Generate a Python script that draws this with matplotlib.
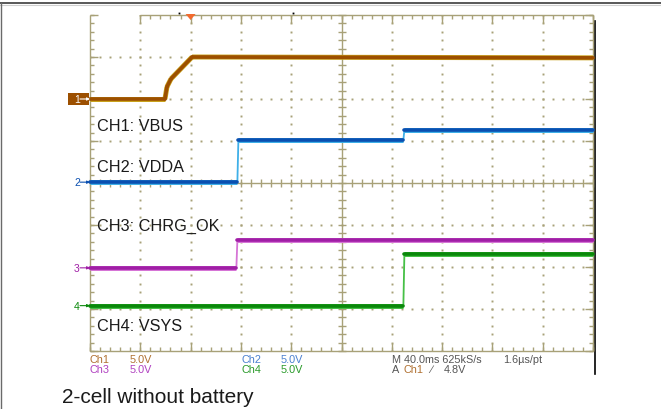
import numpy as np
import matplotlib
matplotlib.use("Agg")
import matplotlib.pyplot as plt
from matplotlib.collections import LineCollection
from matplotlib.patches import Rectangle, Polygon


# ==============================
# TRACE DATA  (x: divisions 0-10, y: divisions 0-8 from bottom)
# ==============================

ch1_t = [0.0, 1.49, 1.53, 1.61, 2.03, 10.0]
ch1_v = [6.00, 6.00, 6.29, 6.48, 7.00, 6.98]

ch2_t = [0.0, 2.93, 2.95, 6.23, 6.25, 10.0]
ch2_v = [4.02, 4.02, 5.02, 5.02, 5.26, 5.26]

ch3_t = [0.0, 2.91, 2.93, 10.0]
ch3_v = [1.98, 1.98, 2.64, 2.64]

ch4_t = [0.0, 6.23, 6.25, 10.0]
ch4_v = [1.08, 1.08, 2.30, 2.30]

channels = ["1", "2", "3", "4"]
ch_ground = [6.00, 4.02, 1.98, 1.08]
ch_names = ["CH1: VBUS", "CH2: VDDA", "CH3: CHRG_OK", "CH4: VSYS"]
name_levels = [5.38, 4.40, 2.98, 0.60]

volts_div = ["5.0V", "5.0V", "5.0V", "5.0V"]
timebase = "M 40.0ms 625kS/s"
resolution = "1.6\u00b5s/pt"
trigger_src = "Ch1"
trigger_level = "4.8V"
trigger_pos = 2.0
caption = "2-cell without battery"


# ==============================
# STYLE
# ==============================

W, H = 661, 410
AX_L, AX_R, AX_T, AX_B = 90, 593, 16, 352
PX = 10.0 / (AX_R - AX_L)   # data units per pixel, x
PY = 8.0 / (AX_B - AX_T)    # data units per pixel, y

dark = ["#9c4f00", "#0a4fb0", "#a01ea6", "#0a880a"]
light = ["#c9a21c", "#3fb0e8", "#d675d6", "#46c046"]
grid_col = "#a8a178"
FONT = "Liberation Sans"

plt.rcParams["font.family"] = [FONT, "DejaVu Sans"]

fig = plt.figure(figsize=(W / 100, H / 100), dpi=100)

# background layer in pixel coordinates
bg = fig.add_axes([0, 0, 1, 1])
bg.set_xlim(0, W)
bg.set_ylim(H, 0)
bg.axis("off")

ax = fig.add_axes([AX_L / W, (H - AX_B) / H, (AX_R - AX_L) / W, (AX_B - AX_T) / H])
ax.set_xlim(0, 10)
ax.set_ylim(0, 8)
ax.axis("off")


# ==============================
# GRATICULE
# ==============================

def tick_segments(positions, base, length, axis):
    segs = []
    for p in positions:
        if axis == "x":
            segs.append([(p, base), (p, base + length)])
        else:
            segs.append([(base, p), (base + length, p)])
    return segs


minor_x = np.arange(0, 10.001, 0.2)
minor_y = np.arange(0, 8.001, 0.2)
major_x = np.arange(0, 11, 1)
major_y = np.arange(0, 9, 1)

# dotted inner grid
for gx in major_x[1:-1]:
    if gx == 5:
        continue
    ax.plot(np.full_like(minor_y, gx), minor_y, ls="none", marker="s",
            ms=1.4, color=grid_col, mew=0)
for gy in major_y[1:-1]:
    if gy == 4:
        continue
    ax.plot(minor_x, np.full_like(minor_x, gy), ls="none", marker="s",
            ms=1.4, color=grid_col, mew=0)

segs = []
# frame
segs.append([(0, 0), (0, 8)])
segs.append([(10, 0), (10, 8)])
segs.append([(0, 0), (10, 0)])
segs.append([(1, 8), (10, 8)])
# centre cross
segs.append([(5, 0), (5, 8)])
segs.append([(0, 4), (10, 4)])

t_min, t_maj = 4, 8
# bottom edge ticks up, top edge ticks down
segs += tick_segments(minor_x, 0, t_min * PY, "x")
segs += tick_segments(major_x, 0, t_maj * PY, "x")
segs += tick_segments(minor_x[minor_x >= 1], 8, -t_min * PY, "x")
segs += tick_segments(major_x[1:], 8, -t_maj * PY, "x")
# left edge ticks right, right edge ticks left
segs += tick_segments(minor_y, 0, t_min * PX, "y")
segs += tick_segments(major_y, 0, t_maj * PX, "y")
segs += tick_segments(minor_y, 10, -t_min * PX, "y")
segs += tick_segments(major_y, 10, -t_maj * PX, "y")
# centre cross ticks
segs += tick_segments(minor_x, 4 - 4 * PY, 8 * PY, "x")
segs += tick_segments(minor_y, 5 - 4 * PX, 8 * PX, "y")

ax.add_collection(LineCollection(segs, colors=grid_col, linewidths=1.0,
                                 zorder=1, clip_on=False))


# ==============================
# TRACES
# ==============================

traces = [(ch1_t, ch1_v), (ch2_t, ch2_v), (ch3_t, ch3_v), (ch4_t, ch4_v)]
for i, (t, v) in enumerate(traces):
    # thin full trace (edges stay thin like the scope capture)
    ax.plot(t, v, color=light[i], lw=1.3, zorder=3, clip_on=False)
    # heavy band on the sloped / flat parts only
    for k in range(len(t) - 1):
        if t[k + 1] - t[k] < 0.03:
            continue
        seg_t, seg_v = [t[k], t[k + 1]], [v[k], v[k + 1]]
        ax.plot(seg_t, seg_v, color=light[i], lw=3.6, solid_capstyle="butt",
                zorder=3, clip_on=False)
        ax.plot(seg_t, seg_v, color=dark[i], lw=2.6, solid_capstyle="round",
                zorder=4, clip_on=False)

for name, lvl in zip(ch_names, name_levels):
    ax.text(7 * PX, lvl, name, fontsize=11.7, color="#1a1a1a", va="center",
            ha="left", zorder=5)

# channel ground markers
for i, (ch, lvl) in enumerate(zip(channels, ch_ground)):
    if i == 0:
        ax.add_patch(Rectangle((-22 * PX, lvl - 6 * PY), 21 * PX, 12 * PY,
                               facecolor=dark[0], edgecolor="none",
                               clip_on=False, zorder=5))
        col = "white"
    else:
        col = dark[i]
    ax.text(-13 * PX, lvl, ch, fontsize=7.5, color=col, ha="center",
            va="center", clip_on=False, zorder=6)
    ax.annotate("", xy=(0, lvl), xytext=(-10 * PX, lvl),
                arrowprops=dict(arrowstyle="-|>", color=col, lw=0.8,
                                mutation_scale=4, shrinkA=0, shrinkB=0),
                annotation_clip=False, zorder=6)

# trigger position marker
ax.add_patch(Polygon([(trigger_pos - 5 * PX, 8 + 1 * PY),
                      (trigger_pos + 5 * PX, 8 + 1 * PY),
                      (trigger_pos, 8 - 5 * PY)],
                     closed=True, facecolor="#f26a2e", edgecolor="none",
                     clip_on=False, zorder=6))
ax.plot([(179.3 - AX_L) * PX, (293.3 - AX_L) * PX], [8 + 2 * PY, 8 + 2 * PY],
        ls="none", marker="s", ms=1.3, color="black", mew=0, clip_on=False)


# ==============================
# SCREEN BORDER + READOUT
# ==============================

bg.plot([0, W], [3.5, 3.5], color="#3c3c3c", lw=1.2)
bg.plot([0, W], [5.5, 5.5], color="#d0d0d0", lw=0.8)
bg.plot([1, 1], [3.5, H], color="#6a6a6a", lw=1.0)
bg.plot([594.5, 594.5], [22, 375], color="black", lw=1.2)

rd = dict(fontsize=7.8, va="center", ha="left")
bg.text(89, 360.5, "Ch1", color="#b07030", **rd)
bg.text(130, 360.5, volts_div[0], color="#b07030", **rd)
bg.text(89, 370.5, "Ch3", color="#b040c0", **rd)
bg.text(130, 370.5, volts_div[2], color="#b040c0", **rd)
bg.text(241, 360.5, "Ch2", color="#4a80d0", **rd)
bg.text(281, 360.5, volts_div[1], color="#4a80d0", **rd)
bg.text(241, 370.5, "Ch4", color="#2a9a2a", **rd)
bg.text(281, 370.5, volts_div[3], color="#2a9a2a", **rd)

bg.text(392, 360.5, timebase, color="#555555", **rd)
bg.text(503, 360.5, resolution, color="#555555", **rd)
bg.text(392, 370.5, "A", color="#555555", **rd)
bg.text(404, 370.5, trigger_src, color="#b07030", **rd)
bg.text(430, 370.5, "\u2215", color="#555555", **rd)
bg.text(444, 370.5, trigger_level, color="#555555", **rd)

bg.text(62, 398, caption, fontsize=15, color="#1a1a1a", va="center",
        ha="left")

fig.savefig("out.png", dpi=100)
plt.close(fig)
